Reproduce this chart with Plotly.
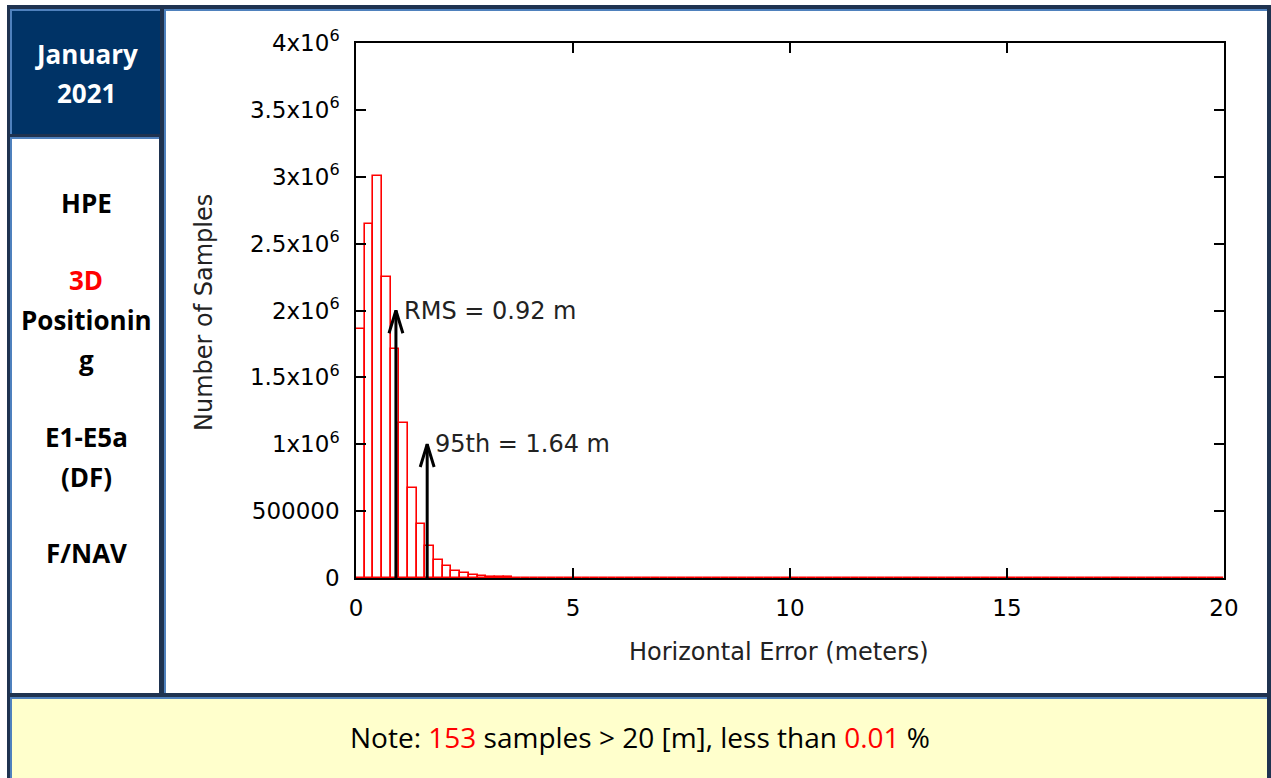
import plotly.graph_objects as go

W, H = 1271, 778

# ---- data ----
bin_width = 0.2
bin_left_edges = [round(i * bin_width, 1) for i in range(100)]
counts = [
    1860000, 2647000, 3008000, 2248000, 1710000, 1161000, 670000, 401000, 239000, 135000,
    90000, 52000, 35000, 24000, 15000, 10000, 7000, 5000, 3500, 2600,
    1900, 1500, 1200, 950, 780, 640, 530, 440, 370, 310,
    270, 240, 210, 190, 170, 150, 135, 120, 110, 100,
    92, 85, 78, 72, 66, 61, 57, 53, 50, 47,
    44, 41, 39, 37, 35, 33, 31, 30, 28, 27,
    26, 25, 24, 23, 22, 21, 20, 19, 18, 18,
    17, 16, 16, 15, 15, 14, 14, 13, 13, 12,
    12, 11, 11, 11, 10, 10, 10, 9, 9, 9,
    8, 8, 8, 8, 7, 7, 7, 7, 6, 6,
]
rms_value = 0.92
p95_value = 1.64
rms_arrow_top = 2000000
p95_arrow_top = 1000000
y_tickvals = [0, 500000, 1000000, 1500000, 2000000, 2500000, 3000000, 3500000, 4000000]
y_ticktext = ["0", "500000", "1x10<sup>6</sup>", "1.5x10<sup>6</sup>", "2x10<sup>6</sup>",
              "2.5x10<sup>6</sup>", "3x10<sup>6</sup>", "3.5x10<sup>6</sup>", "4x10<sup>6</sup>"]
x_tickvals = [0, 5, 10, 15, 20]
header_lines = [("January", 54), ("2021", 93)]
side_lines = [("HPE", "black", 203), ("3D", "red", 280), ("Positionin", "black", 320),
              ("g", "black", 360), ("E1-E5a", "black", 437), ("(DF)", "black", 477),
              ("F/NAV", "black", 553)]
note_html = ("Note: <span style='color:red'>153</span> samples &gt; 20 [m], less than "
             "<span style='color:red'>0.01</span> %")

# ---- helpers ----
def px(x):
    return x / W

def py(y):
    return 1 - y / H

def rect(x0, y0, x1, y1, color):
    return dict(type="rect", xref="paper", yref="paper", x0=px(x0), x1=px(x1),
                y0=py(y1), y1=py(y0), fillcolor=color, line=dict(width=0), layer="below")

DARK = "#1f3350"
LIGHT = "#4f81bd"
NAVY = "#003366"
YELLOW = "#ffffcc"

shapes = [
    rect(7, 5, W, H, DARK),
    # header cell
    rect(10, 9, 160, 134, LIGHT), rect(12, 11, 160, 134, NAVY),
    # left text cell
    rect(10, 137, 159, 693, LIGHT), rect(12, 139, 159, 693, "white"),
    # chart cell
    rect(164, 9, 1267, 693, LIGHT), rect(166, 11, 1267, 693, "white"),
    # note cell
    rect(10, 697, 1267, H, LIGHT), rect(12, 699, 1267, H, YELLOW),
]

fig = go.Figure()

centers = [e + bin_width / 2 for e in bin_left_edges]
fig.add_trace(go.Bar(
    x=centers, y=counts, width=bin_width,
    marker=dict(color="rgba(0,0,0,0)", line=dict(color="red", width=1.6)),
    hoverinfo="skip", showlegend=False,
))

# arrows (open V heads like gnuplot)
head_dx = 0.16
def arrow(xv, ytop):
    head_dy = 0.17e6
    return dict(x=[xv, xv, None, xv - head_dx, xv, xv + head_dx],
                y=[0, ytop, None, ytop - head_dy, ytop, ytop - head_dy])

for xv, yt in [(rms_value, rms_arrow_top), (p95_value, p95_arrow_top)]:
    a = arrow(xv, yt)
    fig.add_trace(go.Scatter(x=a["x"], y=a["y"], mode="lines",
                             line=dict(color="black", width=3),
                             hoverinfo="skip", showlegend=False, cliponaxis=False))

axis_font = dict(family="DejaVu Sans", size=23, color="black")
fig.update_layout(
    width=W, height=H,
    margin=dict(l=0, r=0, t=0, b=0, pad=0, autoexpand=False),
    paper_bgcolor="white", plot_bgcolor="rgba(0,0,0,0)",
    bargap=0, showlegend=False,
    shapes=shapes,
    xaxis=dict(domain=[px(356), px(1224)], range=[0, 20], tickvals=x_tickvals,
               ticks="inside", ticklen=10, tickwidth=1.5, tickcolor="black",
               showline=True, linecolor="black", linewidth=1.5, mirror="ticks",
               showgrid=False, zeroline=False, tickfont=axis_font,
               ticklabelstandoff=9, automargin=False),
    yaxis=dict(domain=[py(578), py(43)], range=[0, 4000000], tickvals=y_tickvals,
               ticktext=y_ticktext, ticks="inside", ticklen=10, tickwidth=1.5,
               tickcolor="black", showline=True, linecolor="black", linewidth=1.5,
               mirror="ticks", showgrid=False, zeroline=False, tickfont=axis_font,
               ticklabelstandoff=10, automargin=False),
)

ann = []
for txt, yy in header_lines:
    ann.append(dict(x=px(86), y=py(yy), xref="paper", yref="paper", text="<b>" + txt + "</b>",
                    showarrow=False, font=dict(family="Open Sans", size=26, color="white"),
                    xanchor="center", yanchor="middle"))
for txt, col, yy in side_lines:
    ann.append(dict(x=px(86), y=py(yy), xref="paper", yref="paper", text="<b>" + txt + "</b>",
                    showarrow=False, font=dict(family="Open Sans", size=26, color=col),
                    xanchor="center", yanchor="middle"))
ann.append(dict(x=px(640), y=py(737), xref="paper", yref="paper", text=note_html,
                showarrow=False, font=dict(family="Open Sans", size=28, color="black"),
                xanchor="center", yanchor="middle"))
ann.append(dict(x=px(779), y=py(652), xref="paper", yref="paper", text="Horizontal Error (meters)",
                showarrow=False, font=dict(family="DejaVu Sans", size=24, color="#222"),
                xanchor="center", yanchor="middle"))
ann.append(dict(x=px(204), y=py(313), xref="paper", yref="paper", text="Number of Samples",
                showarrow=False, textangle=-90, font=dict(family="DejaVu Sans", size=24, color="#222"),
                xanchor="center", yanchor="middle"))
ann.append(dict(x=rms_value, y=rms_arrow_top, xref="x", yref="y", text="RMS = 0.92 m",
                showarrow=False, xanchor="left", yanchor="middle", xshift=6,
                font=dict(family="DejaVu Sans", size=24, color="#222")))
ann.append(dict(x=p95_value, y=p95_arrow_top, xref="x", yref="y", text="95th = 1.64 m",
                showarrow=False, xanchor="left", yanchor="middle", xshift=6,
                font=dict(family="DejaVu Sans", size=24, color="#222")))
fig.update_layout(annotations=ann)

fig.write_html("out.html", config={"displayModeBar": False},
               post_script="document.body.style.margin='0';document.body.style.overflow='hidden';")
